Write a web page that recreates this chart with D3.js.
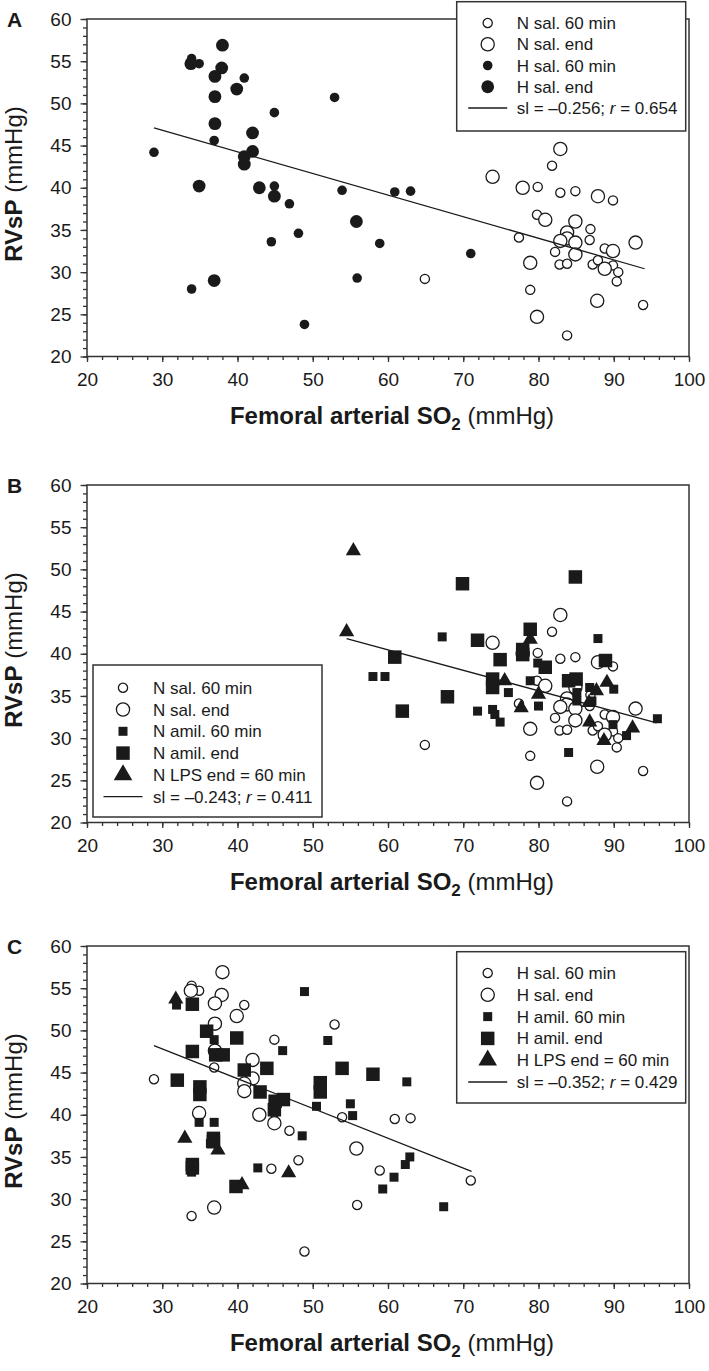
<!DOCTYPE html>
<html lang="en">
<head>
<meta charset="utf-8">
<title>RVsP vs femoral arterial SO2</title>
<script src="https://d3js.org/d3.v7.min.js"></script>
<style>
  body { margin: 0; background: #fff; }
  svg { display: block; font-family: "Liberation Sans", Arial, sans-serif; }
  .tick text { font-size: 19px; fill: #1a1a1a; }
  .legend text { font-size: 17px; fill: #1a1a1a; }
</style>
</head>
<body>
<script>
// ---- data (x = femoral arterial SO2, y = RVsP) ----
const xMajor = [20, 30, 40, 50, 60, 70, 80, 90, 100];
const yMajor = [20, 25, 30, 35, 40, 45, 50, 55, 60];

const nSal60 = [[81.8,42.6],[79.9,40.1],[82.9,39.4],[84.9,39.6],[89.9,38.5],[79.8,36.8],[86.9,35.1],[77.4,34.1],
  [82.2,32.4],[86.8,33.8],[88.8,32.8],[82.8,30.9],[83.8,31.0],[87.2,30.9],[87.9,31.4],[89.9,30.8],[90.6,30.0],
  [90.4,28.9],[64.9,29.2],[78.9,27.9],[93.9,26.1],[83.8,22.5]];
const nSalEnd = [[82.9,44.6],[73.9,41.3],[77.9,40.0],[87.9,39.0],[80.9,36.2],[84.9,36.0],[83.8,34.7],[83.8,34.0],
  [82.9,33.7],[84.9,33.5],[89.9,32.5],[92.9,33.5],[84.9,32.1],[78.9,31.1],[88.8,30.4],[79.8,24.7],[87.8,26.6]];
const hSal60 = [[28.9,44.2],[33.9,55.3],[34.9,54.7],[40.9,53.0],[52.9,50.7],[44.9,48.9],[36.9,45.6],[44.9,40.2],
  [46.9,38.1],[53.9,39.7],[48.1,34.6],[44.5,33.6],[33.9,28.0],[48.9,23.8],[55.9,29.3],[60.9,39.5],[63.0,39.6],
  [58.9,33.4],[71.0,32.2]];
const hSalEnd = [[33.8,54.7],[38.0,56.9],[37.9,54.2],[37.0,53.2],[39.9,51.7],[37.0,50.8],[37.0,47.6],[42.0,46.5],
  [42.0,44.3],[40.9,43.7],[40.9,42.8],[34.9,40.2],[42.9,40.0],[44.9,39.0],[55.8,36.0],[36.9,29.0]];

const nAmil60 = [[67.2,42.0],[87.9,41.8],[79.9,38.9],[58.0,37.3],[59.6,37.3],[76.0,35.4],[73.9,33.4],[74.2,32.8],
  [74.9,31.9],[71.9,33.2],[78.9,36.8],[80.0,33.8],[85.1,35.4],[85.1,34.4],[86.8,36.0],[87.1,34.4],[90.0,35.8],
  [89.9,31.6],[91.7,30.3],[84.0,28.3],[95.8,32.3]];
const nAmilEnd = [[69.9,48.3],[84.9,49.1],[71.9,41.6],[78.9,42.9],[77.9,40.5],[77.9,39.9],[74.9,39.3],[80.9,38.4],
  [88.9,39.2],[60.9,39.6],[73.9,37.0],[73.9,36.0],[67.9,34.9],[61.9,33.2],[84.0,36.8],[85.0,37.0]];
const nLps = [[55.4,52.2],[54.5,42.6],[78.9,41.7],[75.5,36.8],[77.7,33.6],[80.0,35.2],[87.7,35.6],[89.1,36.6],
  [86.7,34.2],[86.8,31.9],[92.5,31.2],[88.7,29.7]];

const hAmil60 = [[31.9,53.0],[36.9,48.9],[46.0,47.6],[48.9,54.6],[52.0,48.8],[50.5,41.0],[55.0,41.3],[55.3,39.9],
  [34.9,39.1],[36.9,39.1],[48.6,37.5],[36.4,36.6],[33.9,33.2],[42.7,33.7],[62.5,43.9],[62.9,35.0],[62.3,34.1],
  [60.8,32.6],[59.3,31.2],[67.4,29.1]];
const hAmilEnd = [[34.0,53.1],[35.9,49.9],[34.0,47.5],[39.9,49.1],[37.1,47.1],[38.1,47.1],[32.0,44.1],[35.0,43.3],
  [35.0,42.4],[40.9,45.3],[43.9,45.5],[43.0,42.7],[45.0,41.6],[46.1,41.8],[44.9,40.6],[53.9,45.5],[51.0,43.8],
  [51.0,42.7],[58.0,44.8],[36.8,37.2],[36.8,36.8],[34.0,34.1],[34.0,33.7],[39.8,31.5]];
const hLps = [[31.8,53.7],[33.0,37.2],[37.4,35.8],[40.6,31.7],[46.8,33.1]];

// regression line end points
const fitA = [[28.9,47.1],[94.1,30.4]];
const fitB = [[54.5,41.8],[95.7,31.8]];
const fitC = [[28.9,48.2],[71.1,33.3]];

// ---- layout ----
const W = 709, H = 1371;
const plotLeft = 87, plotRight = 689, plotH = 337.5;
const ink = "#1a1a1a";

const svg = d3.select("body").append("svg").attr("width", W).attr("height", H);

// marker kinds
const kinds = {
  circS:  { type: d3.symbolCircle,   size: Math.PI * 4.6 * 4.6, open: true },
  circL:  { type: d3.symbolCircle,   size: Math.PI * 6.6 * 6.6, open: true },
  dotS:   { type: d3.symbolCircle,   size: Math.PI * 4.8 * 4.8, open: false },
  dotL:   { type: d3.symbolCircle,   size: Math.PI * 6.4 * 6.4, open: false },
  sqS:    { type: d3.symbolSquare,   size: 9 * 9, open: false },
  sqL:    { type: d3.symbolSquare,   size: 13.5 * 13.5, open: false },
  tri:    { type: d3.symbolTriangle, size: 100, open: false }
};

function drawMarks(g, data, kind, x, y) {
  const k = kinds[kind];
  g.append("g").selectAll("path")
    .data(data)
    .enter().append("path")
    .attr("transform", d => `translate(${x(d[0])},${y(d[1])})`)
    .attr("d", d3.symbol().type(k.type).size(k.size))
    .attr("fill", k.open ? "#fff" : ink)
    .attr("stroke", k.open ? ink : "none")
    .attr("stroke-width", 1.3);
}

function drawPanel(p) {
  const top = p.top, bottom = top + plotH;
  const x = d3.scaleLinear().domain([20, 100]).range([plotLeft, plotRight]);
  const y = d3.scaleLinear().domain([20, 60]).range([bottom, top]);
  const g = svg.append("g");

  // frame
  g.append("rect")
    .attr("x", plotLeft).attr("y", top)
    .attr("width", plotRight - plotLeft).attr("height", plotH)
    .attr("fill", "none").attr("stroke", "#333").attr("stroke-width", 1.5);

  // minor ticks
  g.append("g").attr("transform", `translate(${plotLeft},0)`)
    .call(d3.axisLeft(y).tickValues(d3.range(20, 61, 1)).tickSize(4).tickFormat(""))
    .call(a => a.select(".domain").remove());
  g.append("g").attr("transform", `translate(0,${bottom})`)
    .call(d3.axisBottom(x).tickValues(d3.range(20, 101, 2)).tickSize(3.5).tickFormat(""))
    .call(a => a.select(".domain").remove());
  // major ticks
  g.append("g").attr("transform", `translate(${plotLeft},0)`)
    .call(d3.axisLeft(y).tickValues(yMajor).tickSize(6.5).tickPadding(9))
    .call(a => a.select(".domain").remove());
  g.append("g").attr("transform", `translate(0,${bottom})`)
    .call(d3.axisBottom(x).tickValues(xMajor).tickSize(5.5).tickPadding(11))
    .call(a => a.select(".domain").remove());
  g.selectAll(".tick line").attr("stroke", "#333").attr("stroke-width", 1.3);

  // data
  p.series.forEach(s => drawMarks(g, s.data, s.kind, x, y));

  // fit line
  g.append("path")
    .attr("d", d3.line().x(d => x(d[0])).y(d => y(d[1]))(p.fit))
    .attr("fill", "none").attr("stroke", ink).attr("stroke-width", 1.3);

  // legend
  const L = p.legend;
  const lg = g.append("g").attr("class", "legend");
  lg.append("rect")
    .attr("x", L.x).attr("y", L.y).attr("width", L.w).attr("height", L.h)
    .attr("fill", "#fff").attr("stroke", "#333").attr("stroke-width", 1.5);
  p.series.forEach((s, i) => {
    const cy = L.row0 + i * L.step;
    const k = kinds[s.kind];
    lg.append("path")
      .attr("transform", `translate(${L.x + L.sym},${cy})`)
      .attr("d", d3.symbol().type(k.type).size(s.kind === "tri" ? 150 : k.size)())
      .attr("fill", k.open ? "#fff" : ink)
      .attr("stroke", k.open ? ink : "none")
      .attr("stroke-width", 1.3);
    lg.append("text").attr("x", L.x + L.text).attr("y", cy + 6).text(s.label);
  });
  const fy = L.row0 + p.series.length * L.step;
  lg.append("line")
    .attr("x1", L.x + L.sym - 19.5).attr("x2", L.x + L.sym + 19.5)
    .attr("y1", fy).attr("y2", fy)
    .attr("stroke", ink).attr("stroke-width", 1.3);
  const ft = lg.append("text").attr("x", L.x + L.text).attr("y", fy + 6);
  ft.append("tspan").text(`sl = \u2013${p.slope}; `);
  ft.append("tspan").attr("font-style", "italic").text("r");
  ft.append("tspan").text(` = ${p.r}`);

  // panel letter
  svg.append("text")
    .attr("x", 7).attr("y", top + 8)
    .attr("font-size", 21).attr("font-weight", "bold").attr("fill", ink)
    .text(p.letter);

  // y title
  const yt = svg.append("text")
    .attr("transform", `translate(22,${top + 165}) rotate(-90)`)
    .attr("text-anchor", "middle").attr("font-size", 24).attr("fill", ink);
  yt.append("tspan").attr("font-weight", "bold").text("RVsP");
  yt.append("tspan").text(" (mmHg)");

  // x title
  const xt = svg.append("text")
    .attr("x", (plotLeft + plotRight) / 2 + 4).attr("y", bottom + 67)
    .attr("text-anchor", "middle").attr("font-size", 24).attr("fill", ink);
  xt.append("tspan").attr("font-weight", "bold").text("Femoral arterial SO");
  xt.append("tspan").attr("font-weight", "bold").attr("font-size", 17).attr("dy", 6).text("2");
  xt.append("tspan").attr("dy", -6).text(" (mmHg)");
}

drawPanel({
  letter: "A", top: 19, fit: fitA, slope: "0.256", r: "0.654",
  legend: { x: 456.7, y: 1.7, w: 229, h: 129.3, row0: 23, step: 21.25, sym: 31, text: 60 },
  series: [
    { data: nSal60, kind: "circS", label: "N sal. 60 min" },
    { data: nSalEnd, kind: "circL", label: "N sal. end" },
    { data: hSal60, kind: "dotS", label: "H sal. 60 min" },
    { data: hSalEnd, kind: "dotL", label: "H sal. end" }
  ]
});

drawPanel({
  letter: "B", top: 485, fit: fitB, slope: "0.243", r: "0.411",
  legend: { x: 93, y: 665, w: 229, h: 152, row0: 687.7, step: 21.8, sym: 30, text: 60 },
  series: [
    { data: nSal60, kind: "circS", label: "N sal. 60 min" },
    { data: nSalEnd, kind: "circL", label: "N sal. end" },
    { data: nAmil60, kind: "sqS", label: "N amil. 60 min" },
    { data: nAmilEnd, kind: "sqL", label: "N amil. end" },
    { data: nLps, kind: "tri", label: "N LPS end = 60 min" }
  ]
});

drawPanel({
  letter: "C", top: 946, fit: fitC, slope: "0.352", r: "0.429",
  legend: { x: 456.7, y: 951.7, w: 229, h: 151.3, row0: 973, step: 21.8, sym: 31, text: 60 },
  series: [
    { data: hSal60, kind: "circS", label: "H sal. 60 min" },
    { data: hSalEnd, kind: "circL", label: "H sal. end" },
    { data: hAmil60, kind: "sqS", label: "H amil. 60 min" },
    { data: hAmilEnd, kind: "sqL", label: "H amil. end" },
    { data: hLps, kind: "tri", label: "H LPS end = 60 min" }
  ]
});
</script>
</body>
</html>
